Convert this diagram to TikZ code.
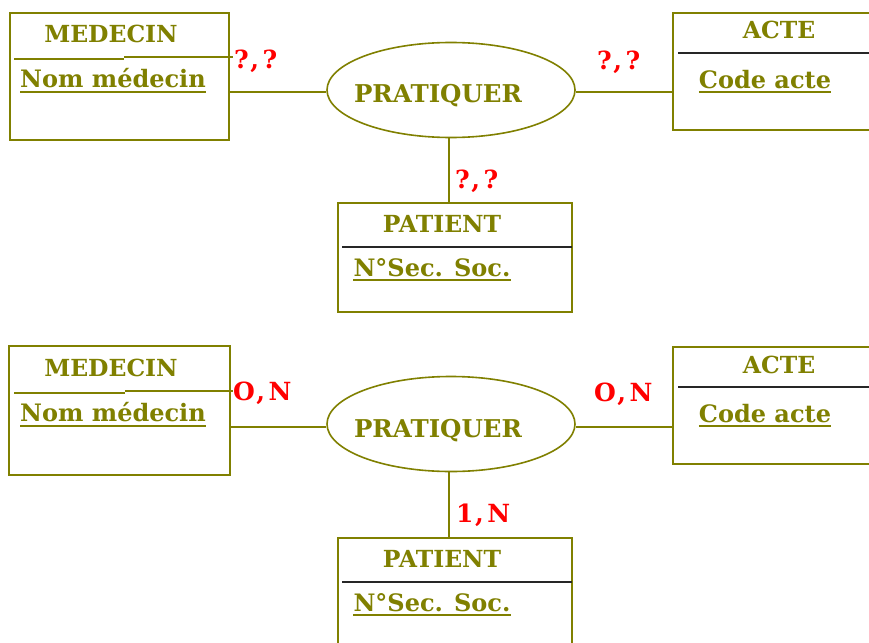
\documentclass[tikz,border=0pt]{standalone}
\usepackage{fontspec}
\setmainfont{DejaVu Serif}
\usetikzlibrary{shapes.geometric}
\definecolor{olive}{HTML}{808000}
\definecolor{card}{HTML}{FF0000}
\newcommand{\cardsep}{\kern1.5pt,\kern3.5pt}
\begin{document}
\begin{tikzpicture}[x=1pt,y=-1pt,
  ent/.style={draw=olive,line width=1.6pt,rectangle,inner sep=0pt},
  rel/.style={draw=olive,line width=1.6pt,ellipse,inner sep=0pt,minimum width=248pt,minimum height=95pt},
  link/.style={draw=olive,line width=1.6pt},
  sepo/.style={draw=olive,line width=1.4pt},
  sepk/.style={draw=black!85,line width=1.4pt},
  ttl/.style={text=olive,font=\bfseries\fontsize{23.5}{24}\selectfont,inner sep=0pt,anchor=base},
  attr/.style={text=olive,font=\bfseries\fontsize{24}{24}\selectfont,inner sep=0pt,anchor=base},
  rtxt/.style={text=olive,font=\bfseries\fontsize{24.5}{25}\selectfont,inner sep=0pt,anchor=base},
  crd/.style={text=card,font=\bfseries\fontsize{25}{25}\selectfont,inner sep=0pt,anchor=base west},
  ul/.style={draw=olive,line width=1.6pt}]
\useasboundingbox (0,0) rectangle (869,642);
\clip (0,0) rectangle (869,642);
\fill[white] (0,0) rectangle (869,642);

% ---------- first schema: unknown cardinalities ----------
\node[ent,minimum width=219pt,minimum height=127pt] (med1) at (119.5,76.5) {};
\node[ent,minimum width=207pt,minimum height=117pt] (act1) at (776.5,71.5) {};
\node[ent,minimum width=234pt,minimum height=109pt] (pat1) at (455,257.5) {};
\node[rel] (rel1) at (451,90) {};

\node[ttl] (med1t) at (111,43) {MEDECIN};
\draw[sepo] (14,59) -- (124,59);
\draw[sepo] (124,57) -- (233,57);
\node[attr] (med1a) at (113,87) {Nom médecin};
\draw[ul] ([yshift=-5pt]med1a.base west) -- ([yshift=-5pt]med1a.base east);

\node[ttl] (act1t) at (779,39) {ACTE};
\draw[sepk] (678,53) -- (880,53);
\node[attr] (act1a) at (765,88) {Code acte};
\draw[ul] ([yshift=-4pt]act1a.base west) -- ([yshift=-4pt]act1a.base east);

\node[ttl] (pat1t) at (442,232) {PATIENT};
\draw[sepk] (342,247) -- (572,247);
\node[attr] (pat1a) at (432,276) {N°Sec. Soc.};
\draw[ul] ([yshift=-4pt]pat1a.base west) -- ([yshift=-4pt]pat1a.base east);

\node[rtxt] (rel1t) at (438,102) {PRATIQUER};

\draw[link] (rel1.west |- 0,92) -- (med1.east |- 0,92);
\draw[link] (rel1.east |- 0,92) -- (act1.west |- 0,92);
\draw[link] (rel1.south -| 449,0) -- (pat1.north -| 449,0);

\node[crd] (c1a) at (234,68) {?\cardsep?};
\node[crd] (c1b) at (597,70) {?\cardsep?};
\node[crd] (c1c) at (455,188) {?\cardsep?};

% ---------- second schema: resolved cardinalities ----------
\node[ent,minimum width=221pt,minimum height=129pt] (med2) at (119.5,410.5) {};
\node[ent,minimum width=207pt,minimum height=117pt] (act2) at (776.5,405.5) {};
\node[ent,minimum width=234pt,minimum height=122pt] (pat2) at (455,599) {};
\node[rel] (rel2) at (451,424) {};

\node[ttl] (med2t) at (111,376) {MEDECIN};
\draw[sepo] (14,393) -- (125,393);
\draw[sepo] (125,391) -- (233,391);
\node[attr] (med2a) at (113,421) {Nom médecin};
\draw[ul] ([yshift=-5pt]med2a.base west) -- ([yshift=-5pt]med2a.base east);

\node[ttl] (act2t) at (779,373) {ACTE};
\draw[sepk] (678,387) -- (880,387);
\node[attr] (act2a) at (765,422) {Code acte};
\draw[ul] ([yshift=-4pt]act2a.base west) -- ([yshift=-4pt]act2a.base east);

\node[ttl] (pat2t) at (442,567) {PATIENT};
\draw[sepk] (342,582) -- (572,582);
\node[attr] (pat2a) at (432,611) {N°Sec. Soc.};
\draw[ul] ([yshift=-4pt]pat2a.base west) -- ([yshift=-4pt]pat2a.base east);

\node[rtxt] (rel2t) at (438,437) {PRATIQUER};

\draw[link] (rel2.west |- 0,427) -- (med2.east |- 0,427);
\draw[link] (rel2.east |- 0,427) -- (act2.west |- 0,427);
\draw[link] (rel2.south -| 449,0) -- (pat2.north -| 449,0);

\node[crd] (c2a) at (233,400) {O\cardsep N};
\node[crd] (c2b) at (594,401) {O\cardsep N};
\node[crd] (c2c) at (456,522) {1\cardsep N};
\end{tikzpicture}
\end{document}
